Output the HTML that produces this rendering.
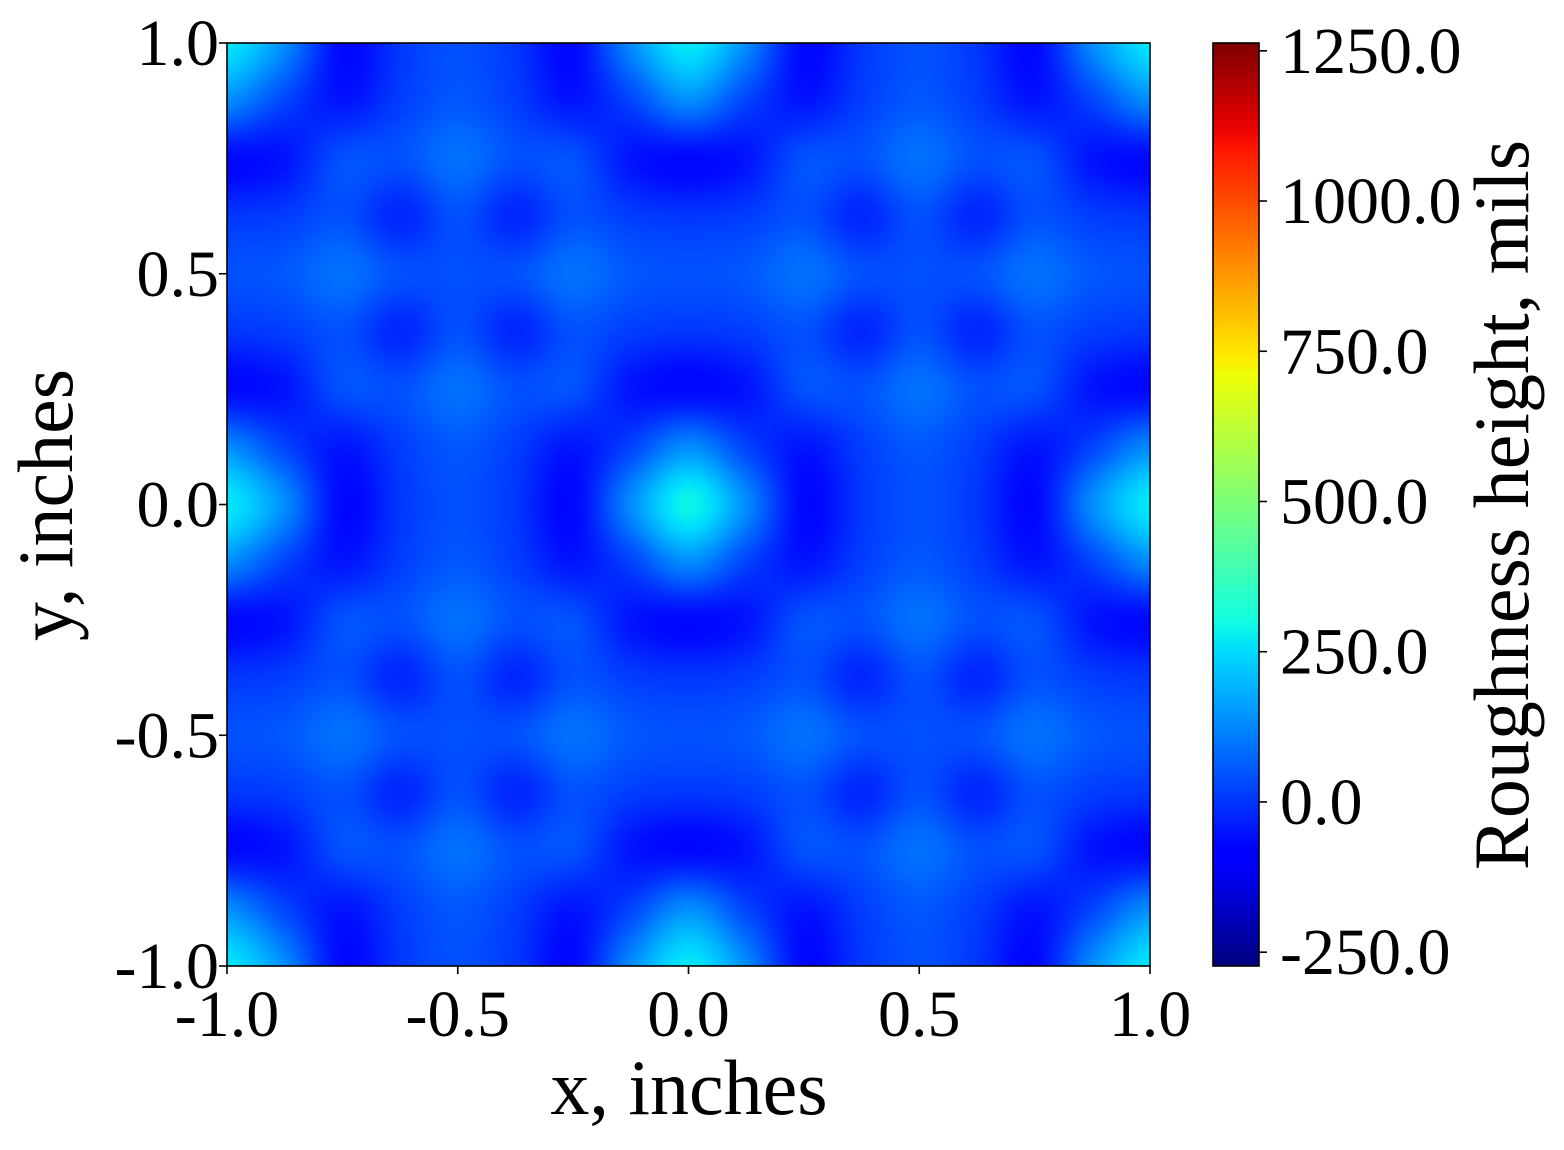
<!DOCTYPE html>
<html><head><meta charset="utf-8"><style>
html,body{margin:0;padding:0;background:#fff;}
#wrap{position:relative;width:1564px;height:1150px;overflow:hidden;}
canvas,svg{position:absolute;left:0;top:0;}
text{font-family:"Liberation Serif",serif;fill:#000;}
</style></head><body>
<div id="wrap">
<canvas id="hm" width="923" height="923" style="left:227px;top:43px"></canvas>
<canvas id="cb" width="46" height="923" style="left:1213px;top:43px"></canvas>
<svg id="ov" width="1564" height="1150"></svg>
</div>
<script>
// grid values (mils), rows top (y=1) to bottom (y=-1), columns x=-1..1, step 0.125
const gridX = [-1,-0.875,-0.75,-0.625,-0.5,-0.375,-0.25,-0.125,0,0.125,0.25,0.375,0.5,0.625,0.75,0.875,1];
const gridY = [1,0.875,0.75,0.625,0.5,0.375,0.25,0.125,0,-0.125,-0.25,-0.375,-0.5,-0.625,-0.75,-0.875,-1];
const row0 = [270,130,-70,0,40,0,-70,130,290,130,-70,0,40,0,-70,130,270];
const row1 = [130,20,-50,10,50,10,-50,20,130,20,-50,10,50,10,-50,20,130];
const row2 = [-70,-50,40,40,90,40,40,-50,-70,-50,40,40,90,40,40,-50,-70];
const row3 = [0,10,40,-25,40,-25,40,10,0,10,40,-25,40,-25,40,10,0];
const row4 = [40,50,90,40,40,40,90,50,40,50,90,40,40,40,90,50,40];
const rowTop = [270,130,-70,0,40,0,-70,130,270,130,-70,0,40,0,-70,130,270];
const values = [rowTop,row1,row2,row3,row4,row3,row2,row1,row0,row1,row2,row3,row4,row3,row2,row1,rowTop];
const xTicks = [-1,-0.5,0,0.5,1];
const xTickLabels = ["-1.0","-0.5","0.0","0.5","1.0"];
const yTicks = [1,0.5,0,-0.5,-1];
const yTickLabels = ["1.0","0.5","0.0","-0.5","-1.0"];
const cbTicks = [1250,1000,750,500,250,0,-250];
const cbTickLabels = ["1250.0","1000.0","750.0","500.0","250.0","0.0","-250.0"];
const vmin = -273, vmax = 1263;

const PX0=227, PX1=1150, PY0=43, PY1=966;
const xs = v => PX0 + (v+1)/2*(PX1-PX0);
const ys = v => PY1 - (v+1)/2*(PY1-PY0);
const cs = v => PY1 - (v-vmin)/(vmax-vmin)*(PY1-PY0);

function interp(pts,t){for(let i=0;i<pts.length-1;i++){if(t<=pts[i+1][0]){const a=pts[i],b=pts[i+1];return a[1]+(b[1]-a[1])*(t-a[0])/(b[0]-a[0]);}}return pts[pts.length-1][1];}
const R=[[0,0],[0.35,0],[0.66,1],[0.89,1],[1,0.5]];
const G=[[0,0],[0.125,0],[0.375,1],[0.64,1],[0.91,0],[1,0]];
const B=[[0,0.5],[0.11,1],[0.34,1],[0.65,0],[1,0]];
function jet(v){let t=(v-vmin)/(vmax-vmin);t=Math.max(0,Math.min(1,t));return [interp(R,t)*255,interp(G,t)*255,interp(B,t)*255];}

function cr(p0,p1,p2,p3,t){return 0.5*((2*p1)+(-p0+p2)*t+(2*p0-5*p1+4*p2-p3)*t*t+(-p0+3*p1-3*p2+p3)*t*t*t);}
const n=values.length;
function gv(r,c){r=Math.max(0,Math.min(n-1,r));c=Math.max(0,Math.min(gridX.length-1,c));return values[r][c];}
function sample(fr,fc){const r=Math.floor(fr),c=Math.floor(fc),tr=fr-r,tc=fc-c;const rows=[];
for(let k=-1;k<=2;k++){rows.push(cr(gv(r+k,c-1),gv(r+k,c),gv(r+k,c+1),gv(r+k,c+2),tc));}
return cr(rows[0],rows[1],rows[2],rows[3],tr);}

const hm=document.getElementById('hm'),ctx=hm.getContext('2d'),img=ctx.createImageData(923,923);
for(let py=0;py<923;py++){for(let px=0;px<923;px++){
const fc=px/922*(gridX.length-1),fr=py/922*(gridY.length-1);
const c=jet(sample(fr,fc));const i=(py*923+px)*4;img.data[i]=c[0];img.data[i+1]=c[1];img.data[i+2]=c[2];img.data[i+3]=255;}}
ctx.putImageData(img,0,0);

const cb=document.getElementById('cb'),cctx=cb.getContext('2d');
for(let py=0;py<923;py++){const v=vmax-(py/922)*(vmax-vmin);const c=jet(v);cctx.fillStyle=`rgb(${c[0]|0},${c[1]|0},${c[2]|0})`;cctx.fillRect(0,py,46,1);}

const NS='http://www.w3.org/2000/svg',ov=document.getElementById('ov');
function mk(tag,attrs,txt){const e=document.createElementNS(NS,tag);for(const k in attrs)e.setAttribute(k,attrs[k]);if(txt!==undefined)e.textContent=txt;ov.appendChild(e);return e;}
let e=mk('rect',{x:PX0,y:PY0,width:PX1-PX0,height:PY1-PY0,fill:'none',stroke:'#000','stroke-width':1.6});


e=mk('rect',{x:1213,y:PY0,width:46,height:PY1-PY0,fill:'none',stroke:'#000','stroke-width':1.6});


xTicks.forEach((v,i)=>{const x=xs(v);
e=mk('line',{x1:x,x2:x,y1:PY1,y2:PY1+8,stroke:'#000','stroke-width':1.6});


e=mk('text',{x:x,y:1036,'font-size':66,'text-anchor':'middle'},xTickLabels[i]);

});
yTicks.forEach((v,i)=>{const y=ys(v);
e=mk('line',{x1:PX0-8,x2:PX0,y1:y,y2:y,stroke:'#000','stroke-width':1.6});


e=mk('text',{x:219,y:y+22,'font-size':66,'text-anchor':'end'},yTickLabels[i]);

});
cbTicks.forEach((v,i)=>{const y=cs(v);
e=mk('line',{x1:1259,x2:1267,y1:y,y2:y,stroke:'#000','stroke-width':1.6});


e=mk('text',{x:1280,y:y+22,'font-size':66},cbTickLabels[i]);

});
e=mk('text',{x:689,y:1114,'font-size':78,'text-anchor':'middle'},'x, inches');


e=mk('text',{x:0,y:0,'font-size':78,'text-anchor':'middle',transform:'translate(72,505) rotate(-90)'},'y, inches');


e=mk('text',{x:0,y:0,'font-size':78,'text-anchor':'middle',transform:'translate(1528,505) rotate(-90)'},'Roughness height, mils');


</script>
</body></html>
